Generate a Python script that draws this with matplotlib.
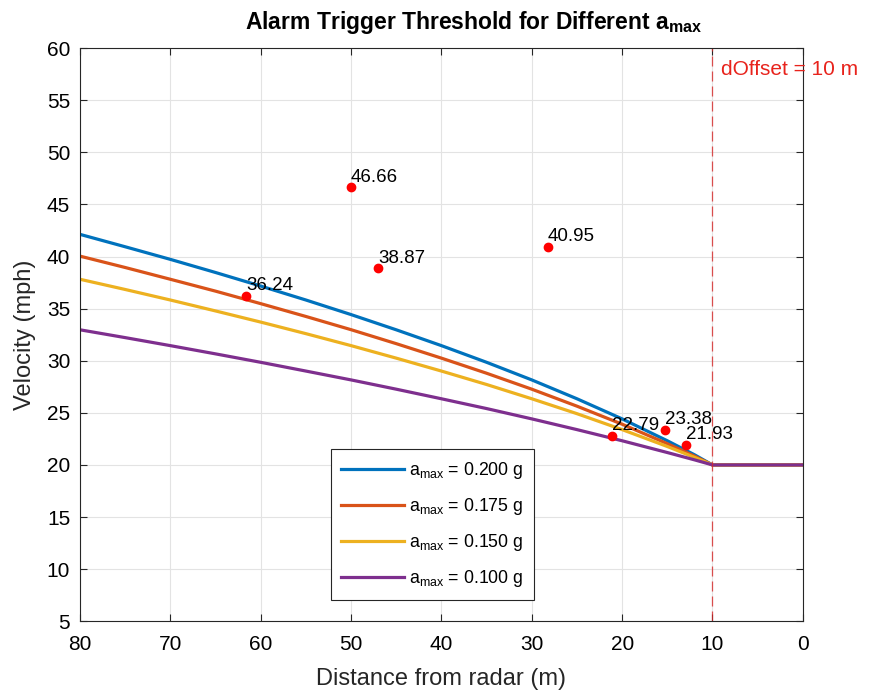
import matplotlib
matplotlib.use("Agg")
import matplotlib.pyplot as plt

plt.rcParams['font.family'] = ['Liberation Sans', 'DejaVu Sans']

# distance from radar (m)
dist = [80, 75, 70, 65, 60, 55, 50, 45, 40, 35, 30, 25, 20, 15, 12, 10, 0]

# velocity thresholds (mph)
v_200 = [42.13, 40.94, 39.73, 38.47, 37.17, 35.83, 34.43, 32.97, 31.45, 29.85, 28.16, 26.35, 24.42, 22.32, 20.98, 20.0, 20.0]
v_175 = [40.04, 38.95, 37.82, 36.68, 35.48, 34.25, 32.98, 31.64, 30.25, 28.80, 27.27, 25.64, 23.91, 22.04, 20.85, 20.0, 20.0]
v_150 = [37.82, 36.84, 35.83, 34.78, 33.71, 32.60, 31.45, 30.25, 29.01, 27.72, 26.35, 24.92, 23.39, 21.77, 20.73, 20.0, 20.0]
v_100 = [32.97, 32.22, 31.45, 30.66, 29.85, 29.01, 28.16, 27.27, 26.35, 25.41, 24.42, 23.39, 22.32, 21.19, 20.49, 20.0, 20.0]

series = [v_200, v_175, v_150, v_100]
labels = ['0.200', '0.175', '0.150', '0.100']
colors = ['#0072BD', '#D95319', '#EDB120', '#7E2F8E']

# measured events
ev_d = [61.6, 50.0, 47.0, 28.2, 21.1, 15.3, 12.9]
ev_v = [36.24, 46.66, 38.87, 40.95, 22.79, 23.38, 21.93]

d_offset = 10

fig = plt.figure(figsize=(8.72, 6.98), dpi=100)
ax = fig.add_axes([0.0917, 0.110, 0.829, 0.821])

for v, lab, c in zip(series, labels, colors):
    ax.plot(dist, v, color=c, lw=2.3, label=r'a$_{\mathregular{max}}$ = ' + lab + ' g')

ax.plot(ev_d, ev_v, 'o', color='red', ms=6, zorder=5)
for d, v in zip(ev_d, ev_v):
    ax.annotate(f'{v:.2f}', (d, v), xytext=(0, 1), textcoords='offset points',
                fontsize=13.5, ha='left', va='bottom', zorder=6)

ax.axvline(d_offset, color='#d62728', ls=(0, (8, 4)), lw=0.9, alpha=0.8)
ax.text(d_offset - 0.9, 58.9, 'dOffset = 10 m', color='#e8231c', fontsize=15,
        ha='left', va='top')

ax.set_xlim(80, 0)
ax.set_ylim(5, 60)
ax.set_xticks(range(80, -1, -10))
ax.set_yticks(range(5, 61, 5))
ax.grid(True, color='#e3e3e3', lw=0.8)
ax.set_axisbelow(True)
ax.tick_params(direction='in', top=True, right=True, labelsize=15, length=5, color='#262626')
ax.tick_params(axis='x', pad=10)
ax.tick_params(axis='y', pad=7)
for s in ax.spines.values():
    s.set_color('#262626')
    s.set_linewidth(0.8)

ax.set_xlabel('Distance from radar (m)', fontsize=17, color='#262626', labelpad=10)
ax.set_ylabel('Velocity (mph)', fontsize=17, color='#262626', labelpad=8)
ax.set_title(r'Alarm Trigger Threshold for Different a$_{\mathregular{max}}$', fontsize=16.5,
             fontweight='bold', pad=14, x=0.545)

leg = ax.legend(loc='lower left', bbox_to_anchor=(0.347, 0.037), fontsize=12.8,
                fancybox=False, framealpha=1, edgecolor='#262626', handlelength=3.5,
                handletextpad=0.3, borderpad=0.6, labelspacing=0.85, borderaxespad=0)
leg.get_frame().set_linewidth(0.8)

fig.savefig('out.png', dpi=100)
